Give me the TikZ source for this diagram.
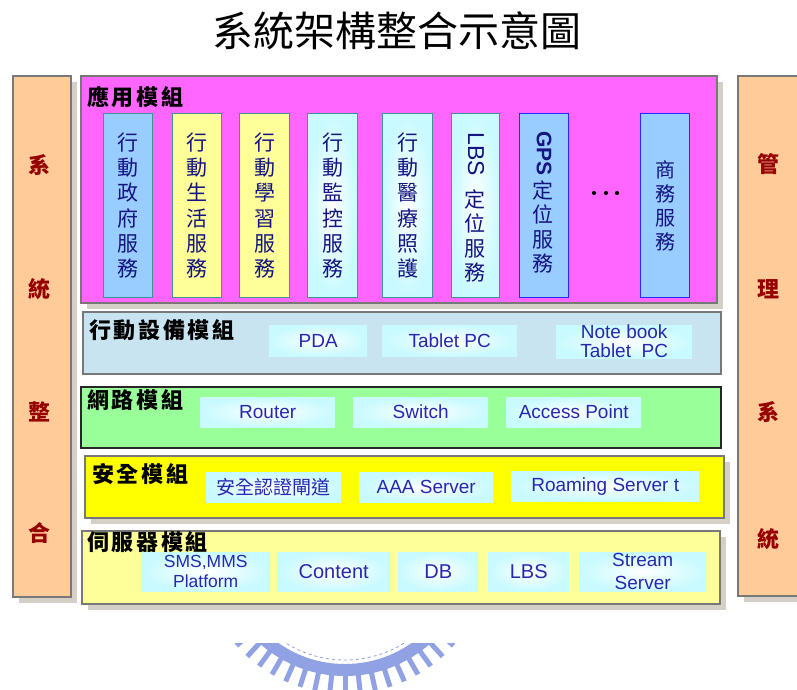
\documentclass[tikz,border=0pt]{standalone}
\usepackage{fontspec}
\setmainfont{Liberation Sans}
\newfontfamily\cjk{Noto Sans CJK TC}
\newfontfamily\cjkl{Noto Sans CJK TC}[LetterSpace=12]
\usetikzlibrary{shadows}
\definecolor{magentabg}{RGB}{255,102,255}
\definecolor{orangebg}{RGB}{255,204,153}
\definecolor{devbg}{RGB}{200,228,240}
\definecolor{netbg}{RGB}{153,255,153}
\definecolor{secbg}{RGB}{255,255,0}
\definecolor{srvbg}{RGB}{255,255,153}
\definecolor{shadowc}{RGB}{212,208,200}
\definecolor{edgegray}{RGB}{120,120,120}
\definecolor{vblue}{RGB}{153,204,255}
\definecolor{vyellow}{RGB}{255,255,153}
\definecolor{itemcyan}{RGB}{200,250,255}
\definecolor{tealedge}{RGB}{60,150,150}
\definecolor{blueedge}{RGB}{40,40,255}
\definecolor{navytext}{RGB}{20,20,130}
\definecolor{itemblue}{RGB}{40,40,175}
\definecolor{darkred}{RGB}{150,0,0}
\definecolor{wmark}{RGB}{145,162,228}
\tikzset{
  panel/.style={draw=edgegray, line width=1.2pt, inner sep=0pt, outer sep=0pt, anchor=north west},
  shad/.style={drop shadow={shadow xshift=6pt, shadow yshift=-6pt, fill=shadowc, opacity=1}},
  vbox/.style={draw=tealedge, line width=1.1pt, inner sep=0pt, anchor=north west, minimum height=184pt},
  vtext/.style={inner sep=0pt, text=navytext, align=center, font=\cjk\fontsize{21}{25.3}\selectfont},
  item/.style={inner sep=0pt, anchor=north west, shading=radial, inner color=white, outer color=itemcyan,
               text=itemblue, align=center, font=\fontsize{19}{19}\selectfont},
  modlabel/.style={anchor=west, inner sep=0pt, font=\cjkl\bfseries\fontsize{22}{22}\selectfont},
  sidelabel/.style={inner sep=0pt, text=darkred, font=\cjk\bfseries\fontsize{22}{22}\selectfont},
}
\begin{document}
\begin{tikzpicture}[x=1pt,y=-1pt]
\useasboundingbox (0,0) rectangle (797,690);
\fill[white] (0,0) rectangle (797,690);

% title
\node[inner sep=0pt, font=\cjk\fontsize{41}{41}\selectfont] (title) at (397,31) {系統架構整合示意圖};

% side columns
\node[panel, shad, fill=orangebg, minimum width=58pt, minimum height=521pt] (leftcol) at (13,76) {};
\node[panel, shad, fill=orangebg, minimum width=70pt, minimum height=520pt] (rightcol) at (738,76) {};
\node[sidelabel] (l1) at (39,165) {系};
\node[sidelabel] (l2) at (39,289) {統};
\node[sidelabel] (l3) at (39,412) {整};
\node[sidelabel] (l4) at (39,533) {合};
\node[sidelabel] (r1) at (768,164) {管};
\node[sidelabel] (r2) at (768,289) {理};
\node[sidelabel] (r3) at (768,412) {系};
\node[sidelabel] (r4) at (768,539) {統};

% application module
\node[panel, shad, fill=magentabg, minimum width=636pt, minimum height=227pt] (app) at (81,76) {};
\node[modlabel] (applabel) at (87,97) {應用模組};
\node[vbox, fill=vblue, minimum width=49pt] (v1) at (103,113) {};
\node[vbox, fill=vyellow, minimum width=49pt] (v2) at (172,113) {};
\node[vbox, fill=vyellow, minimum width=50pt] (v3) at (239,113) {};
\node[vbox, shading=radial, inner color=white, outer color=itemcyan, minimum width=50pt] (v4) at (307,113) {};
\node[vbox, shading=radial, inner color=white, outer color=itemcyan, minimum width=50pt] (v5) at (382,113) {};
\node[vbox, shading=radial, inner color=white, outer color=itemcyan, minimum width=48pt] (v6) at (451,113) {};
\node[vbox, draw=blueedge, fill=vblue, minimum width=49pt] (v7) at (519,113) {};
\node[vbox, draw=blueedge, fill=vblue, minimum width=49pt] (v9) at (640,113) {};
\node[vtext] (v1t) at (v1.center) {行\\動\\政\\府\\服\\務};
\node[vtext] (v2t) at (v2.center) {行\\動\\生\\活\\服\\務};
\node[vtext] (v3t) at (v3.center) {行\\動\\學\\習\\服\\務};
\node[vtext] (v4t) at (v4.center) {行\\動\\監\\控\\服\\務};
\node[vtext] (v5t) at (v5.center) {行\\動\\醫\\療\\照\\護};
\node[inner sep=0pt, text=navytext, rotate=-90, font=\fontsize{23}{23}\selectfont] (v6a) at (476,154.5) {LBS};
\node[vtext, font=\cjk\fontsize{21}{24.5}\selectfont] (v6t) at (475,236) {定\\位\\服\\務};
\node[inner sep=0pt, text=navytext, rotate=-90, font=\bfseries\fontsize{21}{21}\selectfont] (v7a) at (544,153.5) {GPS};
\node[vtext, font=\cjk\fontsize{21}{24.3}\selectfont] (v7t) at (543,227) {定\\位\\服\\務};
\node[vtext, font=\cjk\fontsize{20}{24}\selectfont] (v9t) at (v9.center) {商\\務\\服\\務};
\fill (594,193) circle (2.1);
\fill (606,193) circle (2.1);
\fill (617,193) circle (2.1);

% device module
\node[panel, fill=devbg, minimum width=638pt, minimum height=62pt] (dev) at (83,312) {};
\node[modlabel] (devlabel) at (89,330) {行動設備模組};
\node[item, minimum width=98pt, minimum height=31pt] (pda) at (269,325) {PDA};
\node[item, minimum width=135pt, minimum height=31pt] (tablet) at (382,325) {Tablet PC};
\node[item, minimum width=136pt, minimum height=31pt] (notebook) at (556,325) {Note book\\Tablet\ \ PC};

% network module
\node[panel, draw=black!85, fill=netbg, minimum width=640pt, minimum height=61pt] (net) at (81,387) {};
\node[modlabel] (netlabel) at (87,400) {網路模組};
\node[item, minimum width=135pt, minimum height=30pt] (router) at (200,397) {Router};
\node[item, minimum width=135pt, minimum height=30pt] (switch) at (353,397) {Switch};
\node[item, minimum width=135pt, minimum height=30pt] (ap) at (506,397) {Access Point};

% security module
\node[panel, shad, fill=secbg, minimum width=639pt, minimum height=62pt] (sec) at (85,456) {};
\node[modlabel] (seclabel) at (92,474) {安全模組};
\node[item, minimum width=135pt, minimum height=30pt, font=\cjk\fontsize{19}{19}\selectfont] (gateway) at (206,472) {安全認證閘道};
\node[item, minimum width=134pt, minimum height=30pt] (aaa) at (359,472) {AAA Server};
\node[item, minimum width=188pt, minimum height=30pt] (roam) at (511,471) {Roaming Server t};

% server module
\node[panel, shad, fill=srvbg, minimum width=638pt, minimum height=73pt] (srv) at (82,531) {};
\node[modlabel] (srvlabel) at (87,542) {伺服器模組};
\node[item, minimum width=129pt, minimum height=39pt, font=\fontsize{17.5}{20}\selectfont] (sms) at (141,552) {SMS,MMS\\Platform};
\node[item, minimum width=113pt, minimum height=39pt, font=\fontsize{20}{20}\selectfont] (content) at (277,552) {Content};
\node[item, minimum width=80pt, minimum height=39pt, font=\fontsize{20}{20}\selectfont] (db) at (398,552) {DB};
\node[item, minimum width=81pt, minimum height=39pt, font=\fontsize{20}{20}\selectfont] (lbs) at (488,552) {LBS};
\node[item, minimum width=127pt, minimum height=39pt, font=\fontsize{19}{23}\selectfont] (stream) at (579,552) {Stream\\Server};

% watermark
\begin{scope}
\clip (200,643) rectangle (500,690);
\begin{scope}[shift={(345,548)}]
\draw[wmark, line width=0.8pt, dashed] (0,0) circle (112);
\draw[wmark, line width=12pt] (0,0) circle (122);
\foreach \a in {24,30,...,156} {
  \draw[wmark, line width=5pt] (\a:126) -- (\a:146);
}
\end{scope}
\end{scope}
\end{tikzpicture}
\end{document}
